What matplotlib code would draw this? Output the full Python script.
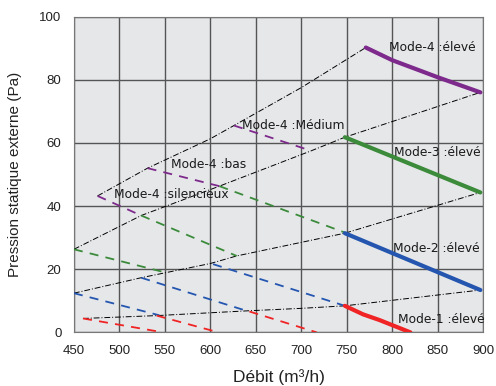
import matplotlib.pyplot as plt
import numpy as np

plt.rcParams['font.family'] = ['Liberation Sans', 'DejaVu Sans']

# system curves (black dash-dot)
sys_a_x = [476, 531, 600, 626, 700, 771]
sys_a_y = [43.2, 52, 61.3, 65.5, 77.5, 90.2]
sys_b_x = [450, 524, 610, 711, 748, 897]
sys_b_y = [26.3, 37, 46.3, 57.5, 61.8, 76]
sys_c_x = [450, 524, 600, 629, 700, 748, 897]
sys_c_y = [12.4, 17.3, 21.8, 24.2, 28.5, 31.4, 44.3]
sys_d_x = [460, 541, 600, 640, 700, 748, 897]
sys_d_y = [4.4, 5.3, 6.2, 6.8, 7.6, 8.4, 13.4]

# fan curves, one list of (x, y) segments per mode colour; last one is solid
purple = [([476, 524], [43.2, 37]),
          ([531, 610], [52, 46.3]),
          ([626, 711], [65.5, 57.5]),
          ([771, 800, 850, 897], [90.2, 86.2, 80.8, 76])]
green = [([450, 550], [26.3, 19]),
         ([524, 629], [37, 24.2]),
         ([610, 748], [46.3, 31.6]),
         ([748, 897], [61.8, 44.3])]
blue = [([450, 544], [12.4, 5.4]),
        ([524, 640], [17.3, 6.8]),
        ([603, 748], [21.6, 8.4]),
        ([748, 897], [31.4, 13.4])]
red = [([460, 548], [4.4, 0]),
       ([541, 609], [5.3, 0]),
       ([643, 717], [6.6, 0]),
       ([748, 768, 786, 820], [8.4, 5.7, 3.9, 0])]

colors = {'purple': '#7d2a8c', 'green': '#3b8b3b', 'blue': '#2456b0', 'red': '#f02424'}

labels = ['Mode-4 :élevé', 'Mode-4 :Médium', 'Mode-3 :élevé', 'Mode-4 :bas',
          'Mode-4 :silencieux', 'Mode-2 :élevé', 'Mode-1 :élevé']
label_x = [796, 635, 802, 557, 494, 801, 806]
label_y = [90.2, 65.4, 57.1, 53.3, 43.5, 26.7, 4.1]

fig = plt.figure(figsize=(4.96, 3.86), dpi=100)
ax = fig.add_axes([0.149, 0.139, 0.825, 0.818])
ax.set_facecolor('#e6e7e9')

for sx, sy in [(sys_a_x, sys_a_y), (sys_b_x, sys_b_y), (sys_c_x, sys_c_y), (sys_d_x, sys_d_y)]:
    ax.plot(sx, sy, color='black', lw=0.7, linestyle=(0, (6, 2, 1, 2)), zorder=3)

for name, segs in [('purple', purple), ('green', green), ('blue', blue), ('red', red)]:
    for i, (x, y) in enumerate(segs):
        if i == len(segs) - 1:
            ax.plot(x, y, color=colors[name], lw=3, solid_capstyle='round', zorder=4)
        else:
            ax.plot(x, y, color=colors[name], lw=1.3, linestyle=(0, (5, 4)), zorder=4)

for t, x, y in zip(labels, label_x, label_y):
    ax.text(x, y, t, fontsize=8.8, va='center', ha='left', color='#1a1a1a', zorder=5,
            family=['Liberation Sans Narrow', 'DejaVu Sans'])

ax.set_xlim(450, 900)
ax.set_ylim(0, 100)
ax.set_xticks(np.arange(450, 901, 50))
ax.set_yticks(np.arange(0, 101, 20))
ax.grid(True, color='#555555', lw=1.0)
ax.set_axisbelow(True)
ax.tick_params(length=0, labelsize=9.5, colors='#222222')
ax.tick_params(axis='x', pad=9)
ax.tick_params(axis='y', pad=9)
for s in ax.spines.values():
    s.set_color('#777777')

ax.set_xlabel('Débit (m³/h)', fontsize=12.5, labelpad=9, color='#222222')
ax.set_ylabel('Pression statique externe (Pa)', fontsize=11, labelpad=12, color='#222222')

fig.savefig('out.png', dpi=100)
